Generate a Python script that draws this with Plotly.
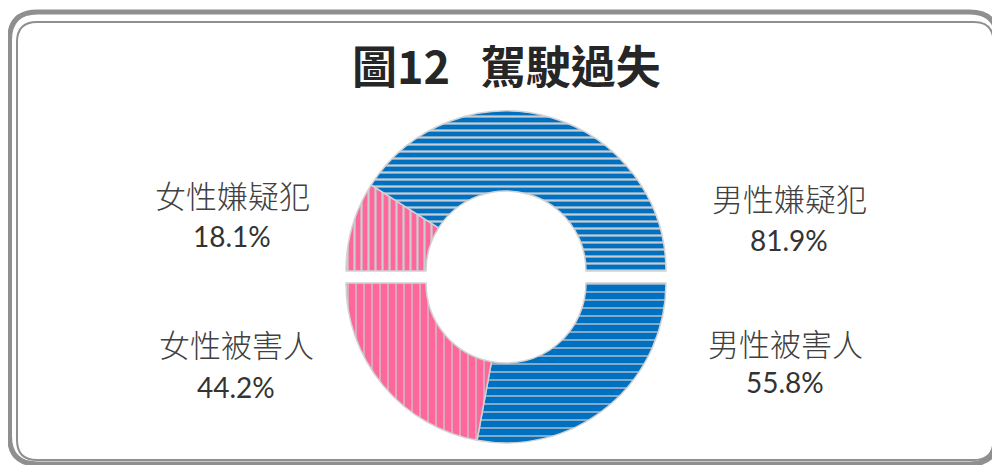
import plotly.graph_objects as go

# ---- data ----
title_main = "圖12"
title_sub = "駕駛過失"
suspect_labels = ["女性嫌疑犯", "男性嫌疑犯"]
suspect_values = [18.1, 81.9]
victim_labels = ["男性被害人", "女性被害人"]
victim_values = [55.8, 44.2]

W, H = 1000, 465
OFF = 8  # page body margin in the browser
BLUE = "#0070C0"
PINK = "#FF6699"
STRIPE = "#C9CDD2"
CLEAR = "rgba(0,0,0,0)"


def px_x(x):
    return (x - OFF) / W


def px_y(y):
    return 1 - (y - OFF) / H


cx, r = 506, 160
top_cy, bot_cy = 271, 283

fig = go.Figure()

# top half (suspects): start at 9 o'clock, clockwise; other half hidden
fig.add_trace(go.Pie(
    labels=suspect_labels + ["_hidden_top"],
    values=suspect_values + [sum(suspect_values)],
    hole=0.5, sort=False, direction="clockwise", rotation=-90,
    textinfo="none", hoverinfo="label+percent", showlegend=False,
    marker=dict(
        colors=[PINK, BLUE, CLEAR],
        line=dict(color=["#D2D2D2", "#D2D2D2", CLEAR], width=1.5),
        pattern=dict(shape=["|", "-", ""], bgcolor=[PINK, BLUE, CLEAR],
                     fgcolor=STRIPE, size=7, solidity=0.32, fillmode="replace"),
    ),
    domain=dict(x=[px_x(cx - r), px_x(cx + r)], y=[px_y(top_cy + r), px_y(top_cy - r)]),
))

# bottom half (victims): start at 3 o'clock, clockwise (male first, then female)
fig.add_trace(go.Pie(
    labels=victim_labels + ["_hidden_bot"],
    values=victim_values + [sum(victim_values)],
    hole=0.5, sort=False, direction="clockwise", rotation=90,
    textinfo="none", hoverinfo="label+percent", showlegend=False,
    marker=dict(
        colors=[BLUE, PINK, CLEAR],
        line=dict(color=["#D2D2D2", "#D2D2D2", CLEAR], width=1.5),
        pattern=dict(shape=["-", "|", ""], bgcolor=[BLUE, PINK, CLEAR],
                     fgcolor=STRIPE, size=8, solidity=0.16, fillmode="replace"),
    ),
    domain=dict(x=[px_x(cx - r), px_x(cx + r)], y=[px_y(bot_cy + r), px_y(bot_cy - r)]),
))


def rounded_rect(x0, y0, x1, y1, rad):
    X0, X1 = px_x(x0), px_x(x1)
    Y0, Y1 = px_y(y0), px_y(y1)
    rx, ry = rad / W, rad / H
    return (f"M {X0+rx},{Y0} L {X1-rx},{Y0} Q {X1},{Y0} {X1},{Y0-ry} "
            f"L {X1},{Y1+ry} Q {X1},{Y1} {X1-rx},{Y1} "
            f"L {X0+rx},{Y1} Q {X0},{Y1} {X0},{Y1+ry} "
            f"L {X0},{Y0-ry} Q {X0},{Y0} {X0+rx},{Y0} Z")


shapes = [
    dict(type="path", xref="paper", yref="paper", path=rounded_rect(9.5, 12, 997.5, 464, 28),
         line=dict(color="#8F8F8F", width=5)),
    dict(type="path", xref="paper", yref="paper", path=rounded_rect(17, 22, 993.5, 460, 20),
         line=dict(color="#8F8F8F", width=2)),
]

cjk = "Noto Sans CJK TC"
annotations = [
    dict(text=f"<b>{title_main}&nbsp;&nbsp;&nbsp;{title_sub}</b>", x=px_x(506), y=px_y(64),
         xref="paper", yref="paper", showarrow=False,
         font=dict(family=cjk, size=45, color="#262626"),
         xanchor="center", yanchor="middle"),
]
label_pos = [
    (suspect_labels[0], suspect_values[0], 232, 195, 236),
    (suspect_labels[1], suspect_values[1], 789, 197, 240),
    (victim_labels[1], victim_values[1], 236, 343, 387),
    (victim_labels[0], victim_values[0], 785, 342, 382),
]
for name, val, x, y1, y2 in label_pos:
    annotations.append(dict(text=name, x=px_x(x), y=px_y(y1), xref="paper", yref="paper",
                            showarrow=False,
                            font=dict(family=cjk, size=31, color="#404040", weight=300),
                            xanchor="center", yanchor="middle"))
    annotations.append(dict(text=f"{val:.1f}%", x=px_x(x), y=px_y(y2), xref="paper", yref="paper",
                            showarrow=False, font=dict(family="Lato", size=28, color="#333333"),
                            xanchor="center", yanchor="middle"))

fig.update_layout(
    width=W, height=H,
    margin=dict(l=0, r=0, t=0, b=0),
    paper_bgcolor="white", plot_bgcolor="white",
    shapes=shapes, annotations=annotations,
    showlegend=False,
)

fig.write_html("out.html")
